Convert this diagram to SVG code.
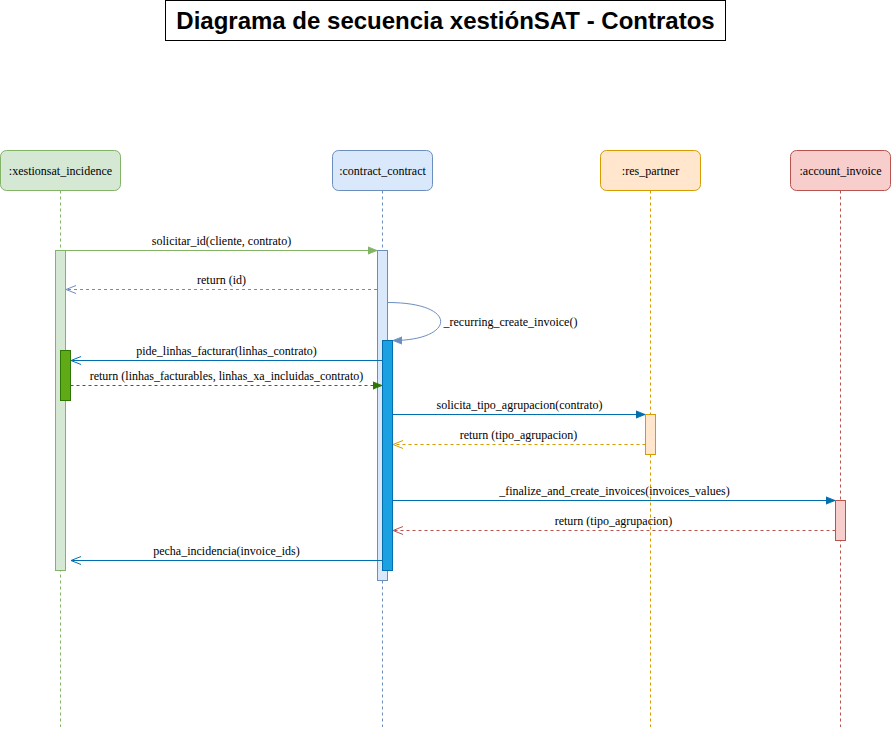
<svg xmlns="http://www.w3.org/2000/svg" width="891" height="732" viewBox="0 0 891 732">
<defs>
<style>
.lbl{font-family:"Liberation Serif","Times New Roman",serif;font-size:12px;fill:#000;text-anchor:middle}
.life{fill:none;stroke-dasharray:3 3;stroke-width:1}
.msg{fill:none;stroke-width:1}
.dash{stroke-dasharray:3 3}
</style>
<marker id="bGreen" viewBox="0 0 10 10" refX="10" refY="5" markerWidth="9" markerHeight="9" markerUnits="userSpaceOnUse" orient="auto"><path d="M0,1 L10,5 L0,9 Z" fill="#82b366" stroke="#82b366"/></marker>
<marker id="bBlue" viewBox="0 0 10 10" refX="10" refY="5" markerWidth="9" markerHeight="9" markerUnits="userSpaceOnUse" orient="auto"><path d="M0,1 L10,5 L0,9 Z" fill="#006eaf" stroke="#006eaf"/></marker>
<marker id="bDkGreen" viewBox="0 0 10 10" refX="10" refY="5" markerWidth="9" markerHeight="9" markerUnits="userSpaceOnUse" orient="auto"><path d="M0,1 L10,5 L0,9 Z" fill="#2d7600" stroke="#2d7600"/></marker>
<marker id="bLight" viewBox="0 0 10 10" refX="10" refY="5" markerWidth="9" markerHeight="9" markerUnits="userSpaceOnUse" orient="auto"><path d="M0,1 L10,5 L0,9 Z" fill="#6c8ebf" stroke="#6c8ebf"/></marker>
<marker id="oLight" viewBox="0 0 10 10" refX="10" refY="5" markerWidth="10" markerHeight="10" markerUnits="userSpaceOnUse" orient="auto"><path d="M0,1 L10,5 L0,9" fill="none" stroke="#6c8ebf"/></marker>
<marker id="oBlue" viewBox="0 0 10 10" refX="10" refY="5" markerWidth="10" markerHeight="10" markerUnits="userSpaceOnUse" orient="auto"><path d="M0,1 L10,5 L0,9" fill="none" stroke="#006eaf"/></marker>
<marker id="oOrange" viewBox="0 0 10 10" refX="10" refY="5" markerWidth="10" markerHeight="10" markerUnits="userSpaceOnUse" orient="auto"><path d="M0,1 L10,5 L0,9" fill="none" stroke="#d79b00"/></marker>
<marker id="oRed" viewBox="0 0 10 10" refX="10" refY="5" markerWidth="10" markerHeight="10" markerUnits="userSpaceOnUse" orient="auto"><path d="M0,1 L10,5 L0,9" fill="none" stroke="#b85450"/></marker>
</defs>
<rect width="891" height="732" fill="#ffffff"/>

<g id="title">
<rect x="165.5" y="0.5" width="560" height="40" fill="#ffffff" stroke="#000000"/>
<text x="445.5" y="29" font-family="'Liberation Sans',Arial,sans-serif" font-size="24" font-weight="bold" text-anchor="middle" fill="#000">Diagrama de secuencia xestiónSAT - Contratos</text>
</g>

<g id="lifelines">
<line class="life" x1="60.5" y1="190.5" x2="60.5" y2="727" stroke="#82b366"/>
<line class="life" x1="382.5" y1="190.5" x2="382.5" y2="727" stroke="#6c8ebf"/>
<line class="life" x1="650.5" y1="190.5" x2="650.5" y2="727" stroke="#d79b00"/>
<line class="life" x1="840.5" y1="190.5" x2="840.5" y2="727" stroke="#b85450"/>
</g>

<g id="node-xestionsat_incidence">
<rect x="0.5" y="150.5" width="120" height="40" rx="6" fill="#d5e8d4" stroke="#82b366"/>
<text class="lbl" x="60.5" y="174.5">:xestionsat_incidence</text>
</g>
<g id="node-contract_contract">
<rect x="332.5" y="150.5" width="100" height="40" rx="6" fill="#dae8fc" stroke="#6c8ebf"/>
<text class="lbl" x="382.5" y="174.5">:contract_contract</text>
</g>
<g id="node-res_partner">
<rect x="600.5" y="150.5" width="100" height="40" rx="6" fill="#ffe6cc" stroke="#d79b00"/>
<text class="lbl" x="650.5" y="174.5">:res_partner</text>
</g>
<g id="node-account_invoice">
<rect x="790.5" y="150.5" width="100" height="40" rx="6" fill="#f8cecc" stroke="#b85450"/>
<text class="lbl" x="840.5" y="174.5">:account_invoice</text>
</g>

<g id="activations">
<rect id="act-xestion" x="55.5" y="250.5" width="10" height="320" fill="#d5e8d4" stroke="#82b366"/>
<rect id="act-xestion-inner" x="60.5" y="350.5" width="10" height="50" fill="#60a917" stroke="#2d7600"/>
<rect id="act-contract" x="377.5" y="250.5" width="10" height="330" fill="#dae8fc" stroke="#6c8ebf"/>
<rect id="act-contract-inner" x="382.5" y="340.5" width="10" height="230" fill="#1ba1e2" stroke="#006eaf"/>
<rect id="act-partner" x="645.5" y="414.5" width="10" height="40" fill="#ffe6cc" stroke="#d79b00"/>
<rect id="act-invoice" x="835.5" y="500.5" width="10" height="40" fill="#f8cecc" stroke="#b85450"/>
</g>

<g id="connectors">
<line class="msg" x1="65.5" y1="250.5" x2="377" y2="250.5" stroke="#82b366" marker-end="url(#bGreen)"/>
<line class="msg dash" x1="377" y1="289.5" x2="66" y2="289.5" stroke="#6c8ebf" marker-end="url(#oLight)"/>
<path class="msg" d="M387.5,302.5 C460,302.5 455,340.5 393,340.5" stroke="#6c8ebf" marker-end="url(#bLight)"/>
<line class="msg" x1="382.5" y1="360.5" x2="71" y2="360.5" stroke="#006eaf" marker-end="url(#oBlue)"/>
<line class="msg dash" x1="70.5" y1="385.5" x2="382" y2="385.5" stroke="#2d7600" marker-end="url(#bDkGreen)"/>
<line class="msg" x1="392.5" y1="414.5" x2="645" y2="414.5" stroke="#006eaf" marker-end="url(#bBlue)"/>
<line class="msg dash" x1="645.5" y1="444.5" x2="393" y2="444.5" stroke="#d79b00" marker-end="url(#oOrange)"/>
<line class="msg" x1="392.5" y1="500.5" x2="835" y2="500.5" stroke="#006eaf" marker-end="url(#bBlue)"/>
<line class="msg dash" x1="835.5" y1="530.5" x2="393" y2="530.5" stroke="#b85450" marker-end="url(#oRed)"/>
<line class="msg" x1="382.5" y1="560.5" x2="71" y2="560.5" stroke="#006eaf" marker-end="url(#oBlue)"/>
</g>

<g id="labels">
<text class="lbl" x="221.5" y="245">solicitar_id(cliente, contrato)</text>
<text class="lbl" x="221.5" y="284">return (id)</text>
<text class="lbl" x="443.5" y="325.5" text-anchor="start" style="text-anchor:start">_recurring_create_invoice()</text>
<text class="lbl" x="226.5" y="355">pide_linhas_facturar(linhas_contrato)</text>
<text class="lbl" x="226.5" y="380">return (linhas_facturables, linhas_xa_incluidas_contrato)</text>
<text class="lbl" x="519.5" y="409">solicita_tipo_agrupacion(contrato)</text>
<text class="lbl" x="518.5" y="439">return (tipo_agrupacion)</text>
<text class="lbl" x="614.5" y="495">_finalize_and_create_invoices(invoices_values)</text>
<text class="lbl" x="613.5" y="525">return (tipo_agrupacion)</text>
<text class="lbl" x="226.5" y="555">pecha_incidencia(invoice_ids)</text>
</g>
</svg>
